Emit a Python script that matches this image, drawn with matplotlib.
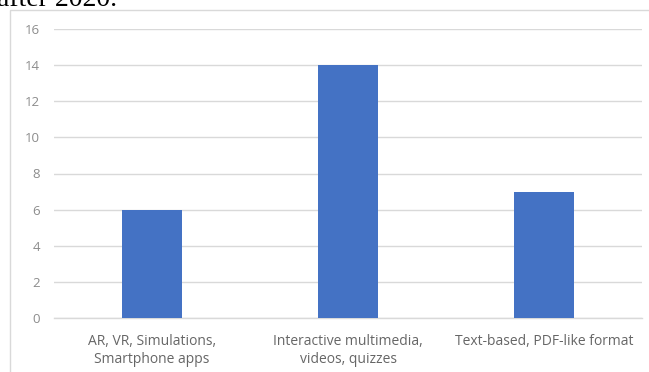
import matplotlib.pyplot as plt
from matplotlib.patches import Rectangle

categories = ["AR, VR, Simulations,\nSmartphone apps",
              "Interactive multimedia,\nvideos, quizzes",
              "Text-based, PDF-like format"]
counts = [6, 14, 7]
yticks = [0, 2, 4, 6, 8, 10, 12, 14, 16]

BLUE = "#4472C4"
GRID = "#d9d9d9"
TICK = "#8c8c8c"

fig = plt.figure(figsize=(6.49, 3.72), dpi=100)
fig.patch.set_facecolor("white")

# tail of the preceding sentence, cut off at the top edge
fig.text(-0.004, 0.985, "after 2020.", family=["Liberation Serif", "DejaVu Serif"],
         fontsize=20, va="baseline", ha="left", color="black")

# chart frame
fig.patches.append(Rectangle((10 / 649, -0.1), 1.0, 1 - 10 / 372 + 0.1,
                             transform=fig.transFigure, fill=False,
                             edgecolor=GRID, linewidth=1.0))

ax = fig.add_axes([54 / 649, 1 - 318 / 372, 588 / 649, 289 / 372])
x = range(len(categories))
ax.bar(x, counts, width=0.31, color=BLUE, zorder=3)

ax.set_xlim(-0.5, 2.5)
ax.set_ylim(0, 16)
ax.set_yticks(yticks)
ax.set_xticks(list(x))
ax.set_xticklabels(categories, fontsize=10, color="#666666",
                   family="Open Sans", linespacing=1.3)
ax.set_yticklabels([str(v) for v in yticks], fontsize=9.5, color=TICK,
                   family="Open Sans")
ax.tick_params(axis="both", length=0)
ax.tick_params(axis="y", pad=10)
ax.tick_params(axis="x", pad=11.5)
ax.yaxis.grid(True, color=GRID, linewidth=1.0, zorder=0)
for side in ["top", "right", "left"]:
    ax.spines[side].set_visible(False)
ax.spines["bottom"].set_color(GRID)
ax.spines["bottom"].set_linewidth(1.0)

fig.savefig("out.png", dpi=100)
